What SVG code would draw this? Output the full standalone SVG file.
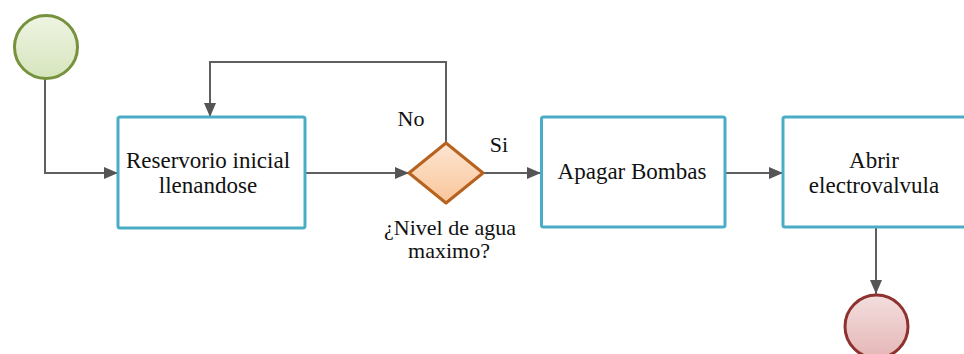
<svg xmlns="http://www.w3.org/2000/svg" width="964" height="354" viewBox="0 0 964 354">
<style>
.task{fill:#ffffff;stroke:#4BACC6;stroke-width:3}
.conn{fill:none;stroke:#5f5f5f;stroke-width:2}
.lbl{font-family:"Liberation Serif","Times New Roman","DejaVu Serif",serif;font-size:22px;fill:#111111;text-anchor:middle}
.big{font-size:23px}
</style>
<defs>
<linearGradient id="gStart" x1="0" y1="0" x2="0" y2="1"><stop offset="0" stop-color="#EEF4E3"/><stop offset="1" stop-color="#D6E5BC"/></linearGradient>
<linearGradient id="gDec" x1="0" y1="0" x2="0" y2="1"><stop offset="0" stop-color="#FDE6D2"/><stop offset="1" stop-color="#F9C59A"/></linearGradient>
<linearGradient id="gEnd" x1="0" y1="0" x2="0" y2="1"><stop offset="0" stop-color="#F4DEDE"/><stop offset="1" stop-color="#E5B6B6"/></linearGradient>
<marker id="arr" markerWidth="14" markerHeight="12" refX="14" refY="6" orient="auto" markerUnits="userSpaceOnUse"><path d="M0,0 L14,6 L0,12 Z" fill="#555555"/></marker>
</defs>
<g id="connectors">
<polyline class="conn" points="45,79 45,173 118,173" marker-end="url(#arr)"/>
<polyline class="conn" points="446,143 446,62 210,62 210,117" marker-end="url(#arr)"/>
<polyline class="conn" points="305,173 409,173" marker-end="url(#arr)"/>
<polyline class="conn" points="484,173 541,173" marker-end="url(#arr)"/>
<polyline class="conn" points="725,173 783,173" marker-end="url(#arr)"/>
<polyline class="conn" points="876,228 876,294" marker-end="url(#arr)"/>
<text class="lbl" x="411" y="126">No</text>
<text class="lbl" x="499" y="152">Si</text>
</g>
<g id="start">
<circle cx="46" cy="47" r="31.5" fill="url(#gStart)" stroke="#76923C" stroke-width="3"/>
</g>
<g id="reservorio">
<rect class="task" x="118" y="117" width="187" height="111" rx="2"/>
<text class="lbl big" x="208" y="168">Reservorio inicial</text>
<text class="lbl big" x="208" y="193">llenandose</text>
</g>
<g id="decision">
<polygon points="446,143 483,173 446,203 409,173" fill="url(#gDec)" stroke="#B7621E" stroke-width="3" stroke-linejoin="round"/>
<text class="lbl" x="450" y="235">¿Nivel de agua</text>
<text class="lbl" x="449" y="258">maximo?</text>
</g>
<g id="apagar">
<rect class="task" x="541.5" y="117" width="183.5" height="110" rx="2"/>
<text class="lbl big" x="632" y="179">Apagar Bombas</text>
</g>
<g id="abrir">
<rect class="task" x="783" y="117" width="186" height="110" rx="2"/>
<text class="lbl big" x="874" y="168">Abrir</text>
<text class="lbl big" x="874" y="193">electrovalvula</text>
</g>
<g id="end">
<circle cx="876.5" cy="326.5" r="31.5" fill="url(#gEnd)" stroke="#8E3230" stroke-width="3"/>
</g>
</svg>
